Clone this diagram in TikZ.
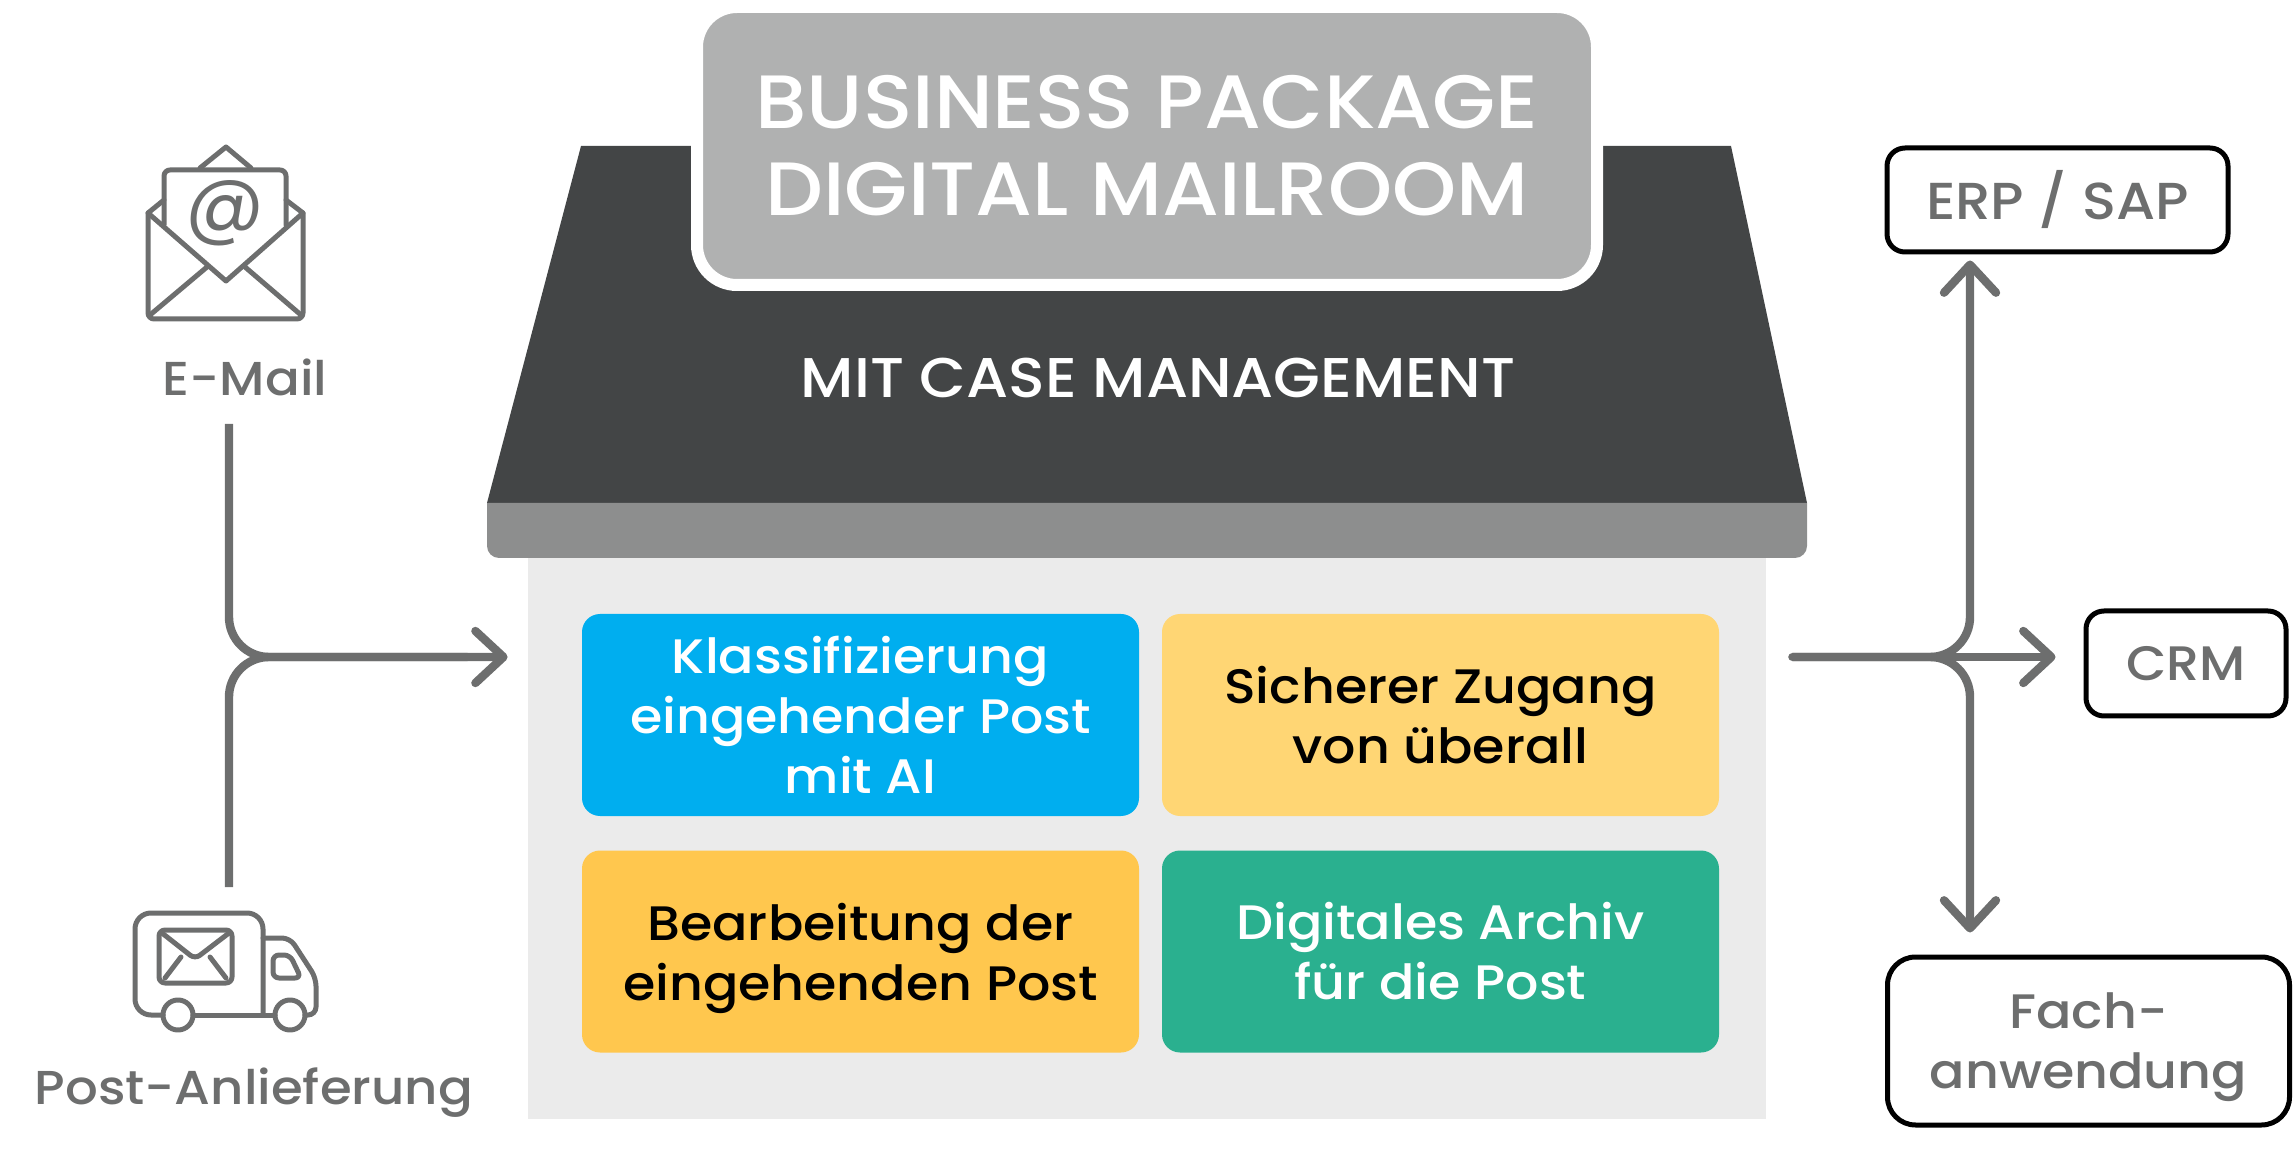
\documentclass[tikz,border=0pt]{standalone}
\usepackage{fontspec}
\setmainfont[FakeStretch=1.08]{Poppins Medium}
\newfontfamily\glyphfont{Poppins}
\usetikzlibrary{arrows.meta}

\definecolor{roofdark}{HTML}{434546}
\definecolor{roofband}{HTML}{8D8E8E}
\definecolor{titlegray}{HTML}{B0B1B1}
\definecolor{wallgray}{HTML}{EBEBEB}
\definecolor{linegray}{HTML}{6D6E6E}
\definecolor{tileblue}{HTML}{00AEEF}
\definecolor{tilesand}{HTML}{FFD674}
\definecolor{tileorange}{HTML}{FFC74E}
\definecolor{tilegreen}{HTML}{2AB08F}

\tikzset{
    tile/.style={rounded corners=9pt,minimum width=278.5pt,minimum height=101pt,align=center,inner sep=0pt,font=\fontsize{24.2}{30}\selectfont},
    target/.style={draw=black,line width=2.5pt,rounded corners=9pt,text=linegray,align=center,inner sep=0pt,font=\fontsize{24.2}{30}\selectfont},
    source/.style={text=linegray,inner sep=0pt,font=\fontsize{23.8}{28}\selectfont},
    feed/.style={draw=linegray,line width=4.2pt,rounded corners=20pt},
    flow/.style={feed,-{Straight Barb[round,length=14pt,width=26pt,line width=4.2pt]}},
    icon/.style={draw=linegray,line width=2.5pt,line join=round,line cap=round},
}

\begin{document}
\begin{tikzpicture}[x=0.5pt,y=-0.5pt]
    \useasboundingbox (0,0) rectangle (2293,1149);

    %house
    \node[fill=wallgray,minimum width=619pt,minimum height=280.5pt,inner sep=0pt] (wall) at (1147,838.5) {};
    \fill[roofdark] (581,146) -- (1731,146) -- (1807,503) -- (487,503) -- cycle;
    \fill[roofband] (487,503) -- (1807,503) {[rounded corners=6pt] -- (1807,558) -- (487,558)} -- cycle;
    \node[fill=titlegray,draw=white,line width=6pt,rounded corners=20pt,minimum width=450pt,minimum height=139pt,align=center,inner sep=0pt,text=white,font=\fontsize{37.8}{43.5}\selectfont] (title) at (1147,146) {BUSINESS PACKAGE\\DIGITAL MAILROOM};
    \node[text=white,inner sep=0pt,font=\fontsize{28}{30}\selectfont] (casetext) at (1158,378) {MIT CASE MANAGEMENT};

    %tiles
    \node[tile,fill=tileblue,text=white] (classify) at (860.5,715) {Klassifizierung\\eingehender Post\\mit AI};
    \node[tile,fill=tilesand] (access) at (1440.5,715) {Sicherer Zugang\\von überall};
    \node[tile,fill=tileorange,text depth=0pt] (process) at (860.5,951.5) {Bearbeitung der\\eingehenden Post};
    \node[tile,fill=tilegreen,text=white] (archive) at (1440.5,951.5) {Digitales Archiv\\für die Post};

    %sources
    \node[source] (maillabel) at (245,377) {E-Mail};
    \node[source] (postlabel) at (254,1093) {Post-Anlieferung};

    %envelope icon
    \draw[icon,rounded corners=3pt] (148,213) -- (148,319) -- (303,319) -- (303,213);
    \draw[icon] (164,200) -- (148,213) -- (226,281) -- (303,213) -- (286,200);
    \draw[icon,rounded corners=3pt] (164,225) -- (164,170) -- (286,170) -- (286,225);
    \draw[icon] (200,168) -- (226,147) -- (251,168);
    \draw[icon] (150,315) -- (207,267) (301,315) -- (245,267);
    \node[text=linegray,inner sep=0pt,font=\glyphfont\fontsize{39}{39}\selectfont] (mailat) at (225,213) {@};

    %truck icon
    \draw[icon,rounded corners=8pt] (163,1015) -- (135,1015) -- (135,913) -- (263,913) -- (263,1015);
    \draw[icon] (193,1015) -- (275,1015);
    \draw[icon,rounded corners=4pt] (263,938) -- (290,938) -- (316,978) -- (316,1015) -- (305,1015);
    \draw[icon,rounded corners=3pt] (273,955) -- (290,955) -- (301,978) -- (273,978) -- cycle;
    \draw[icon,rounded corners=3pt] (159,930) -- (232,930) -- (232,983) -- (159,983) -- cycle;
    \draw[icon,rounded corners=3pt] (162,933) -- (195,959) -- (229,933);
    \draw[icon] (165,978) -- (181,957) (226,978) -- (210,957);
    \draw[icon] (178,1015) circle (15);
    \draw[icon] (290,1015) circle (15);

    %targets
    \node[target,minimum width=170.5pt,minimum height=52pt,text depth=5pt,font=\fontsize{26}{30}\selectfont] (erp) at (2057.5,200) {ERP / SAP};
    \node[target,minimum width=100pt,minimum height=52.5pt] (crm) at (2186,663.5) {CRM};
    \node[target,minimum width=201pt,minimum height=84pt,rounded corners=14pt,text depth=0pt] (fach) at (2088.5,1041) {Fach-\\anwendung};

    %pile ind
    \coordinate (mergein) at (229,657);
    \coordinate (mailend) at (229,424);
    \coordinate (postend) at (229,887);
    \draw[flow,shorten >=10pt] (mailend) -- (mergein) -- (wall.west |- mergein);
    \draw[feed,shorten >=30pt] (postend) -- (mergein) -- (wall.west |- mergein);

    %pile ud
    \coordinate (splitout) at (1970,657);
    \draw[flow,shorten <=13pt,shorten >=3pt] (wall.east |- splitout) -- (splitout) -- (splitout |- erp.south);
    \draw[flow,shorten <=13pt,shorten >=11pt] (wall.east |- splitout) -- (splitout) -- (splitout |- fach.north);
    \draw[flow,shorten <=13pt,shorten >=14pt,line cap=round] (wall.east |- splitout) -- (crm.west |- splitout);
\end{tikzpicture}
\end{document}
